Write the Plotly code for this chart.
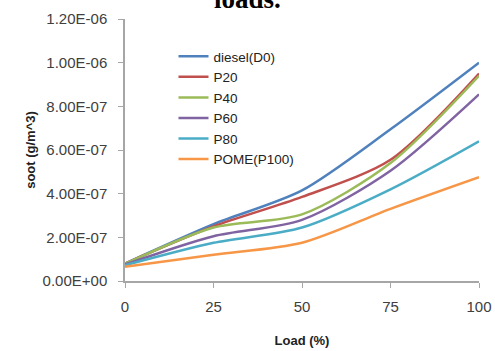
import plotly.graph_objects as go

load = [0, 25, 50, 75, 100]
diesel = [8.0e-8, 2.6e-7, 4.15e-7, 6.95e-7, 1.0e-6]
p20 = [8.0e-8, 2.5e-7, 3.85e-7, 5.55e-7, 9.5e-7]
p40 = [7.8e-8, 2.45e-7, 3.05e-7, 5.4e-7, 9.4e-7]
p60 = [7.5e-8, 2.05e-7, 2.8e-7, 5.05e-7, 8.55e-7]
p80 = [7.2e-8, 1.75e-7, 2.45e-7, 4.2e-7, 6.4e-7]
pome = [6.5e-8, 1.2e-7, 1.75e-7, 3.3e-7, 4.75e-7]

y_tickvals = [0, 2e-7, 4e-7, 6e-7, 8e-7, 1e-6, 1.2e-6]
y_ticktext = ["0.00E+00", "2.00E-07", "4.00E-07", "6.00E-07", "8.00E-07", "1.00E-06", "1.20E-06"]
x_tickvals = [0, 25, 50, 75, 100]

series = [
    ("diesel(D0)", diesel, "#4F81BD"),
    ("P20", p20, "#C0504D"),
    ("P40", p40, "#9BBB59"),
    ("P60", p60, "#8064A2"),
    ("P80", p80, "#4BACC6"),
    ("POME(P100)", pome, "#F79646"),
]

fig = go.Figure()
for name, vals, color in series:
    fig.add_trace(go.Scatter(
        x=load, y=vals, name=name, mode="lines",
        line=dict(color=color, width=2.5, shape="spline", smoothing=0.8),
    ))

font_family = "Liberation Sans, Arial, sans-serif"
fig.update_layout(
    width=495, height=351,
    margin=dict(l=125, r=16, t=19, b=70, autoexpand=False),
    paper_bgcolor="white", plot_bgcolor="white",
    font=dict(family=font_family, size=14, color="#404040"),
    showlegend=True,
    legend=dict(
        x=0.137, y=0.916, xanchor="left", yanchor="top",
        bgcolor="rgba(0,0,0,0)", font=dict(size=13.5, color="#222222"),
        tracegroupgap=0, itemwidth=30,
    ),
    xaxis=dict(
        range=[0, 100], tickvals=x_tickvals, showgrid=False, zeroline=False,
        showline=True, linecolor="#a6a6a6", linewidth=1.5,
        ticks="outside", ticklen=5, tickcolor="#a6a6a6",
        ticklabelstandoff=6, automargin=False,
        tickfont=dict(size=15, color="#404040"),
        title=dict(text="<b>Load (%)</b>", font=dict(size=13, color="#222222"), standoff=22),
    ),
    yaxis=dict(
        range=[0, 1.2e-6], tickvals=y_tickvals, ticktext=y_ticktext,
        showgrid=False, zeroline=False,
        showline=True, linecolor="#a6a6a6", linewidth=1.5,
        ticks="outside", ticklen=5, tickcolor="#a6a6a6",
        ticklabelstandoff=8, automargin=False,
        tickfont=dict(size=15, color="#404040"),
        title=dict(text="<b>soot (g/m^3)</b>", font=dict(size=13, color="#222222"), standoff=4),
    ),
)

fig.add_annotation(
    text="<b>loads.</b>", xref="paper", yref="paper", x=0.345, y=1.0,
    yshift=3, yanchor="bottom", showarrow=False,
    font=dict(family="Liberation Serif, Times New Roman, serif", size=27, color="#000000"),
)

fig.write_html("out.html", config={"displayModeBar": False},
               post_script="document.body.style.margin='0px';")
